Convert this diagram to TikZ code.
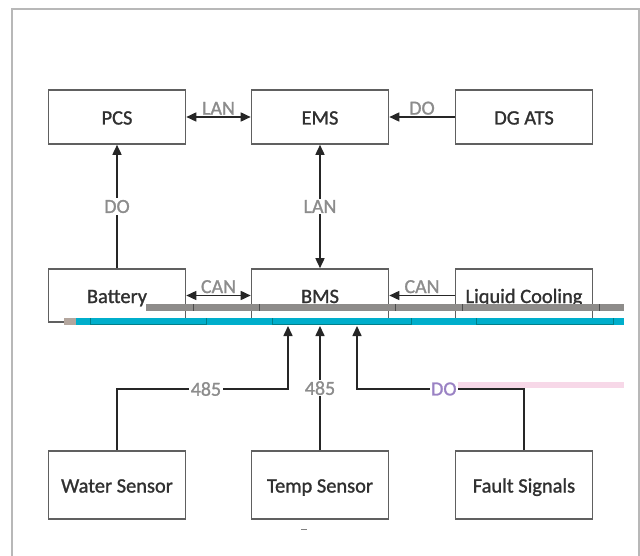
\documentclass[tikz,border=0pt]{standalone}
\usepackage{fontspec}
\setmainfont{Carlito}[FakeBold=1.2]
\usetikzlibrary{arrows.meta}
\definecolor{boxline}{HTML}{606060}
\definecolor{boxtext}{HTML}{303030}
\definecolor{lblgrey}{HTML}{8C8C8C}
\definecolor{lblpurple}{HTML}{9A82C4}
\definecolor{framegrey}{HTML}{B8B8B8}
\definecolor{bargrey}{HTML}{8E8C8A}
\definecolor{barbrown}{HTML}{B3A69E}
\definecolor{barteal}{HTML}{00AECB}
\definecolor{darkteal}{HTML}{00808A}
\definecolor{barpink}{HTML}{F7D8E8}
\tikzset{
  unit/.style={draw=boxline, line width=1.6bp, fill=white, minimum width=137bp, minimum height=54bp, inner sep=0pt, text=boxtext, text height=18bp, text depth=3bp, font=\fontsize{20.5}{23}\selectfont},
  link/.style={draw=black!85, line width=1.6bp},
  tip/.style={-{Triangle[length=10bp,width=9bp]}},
  both/.style={{Triangle[length=10bp,width=9bp]}-{Triangle[length=10bp,width=9bp]}},
  lbl/.style={text=lblgrey, font=\fontsize{20}{23}\selectfont, inner sep=1.5bp},
}
\begin{document}
\begin{tikzpicture}[x=1bp,y=-1bp]
  \useasboundingbox (0,0) rectangle (640,556);
  \draw[framegrey, line width=1.5bp] (12,560) -- (12,9) -- (639,9) -- (639,560);

  \foreach \n/\t/\x in {pcs/PCS/117, ems/EMS/320, ats/DG ATS/524}
    \node[unit] (\n) at (\x,117) {\t};
  \foreach \n/\t/\x in {bat/Battery/117, bms/BMS/320, cool/Liquid Cooling/524}
    \node[unit, minimum height=53bp] (\n) at (\x,295.5) {\t};
  \foreach \n/\t/\x in {water/Water Sensor/117, temp/Temp Sensor/320, fault/Fault Signals/524}
    \node[unit, minimum height=68bp] (\n) at (\x,485) {\t};

  \fill[barpink] (447,382) rectangle (624,388);

  \draw[link, both] (pcs.east) -- node[lbl, above] {LAN} (ems.west);
  \draw[link, tip] (ats.west) -- node[lbl, above] {DO} (ems.east);
  \draw[link, tip] (bat.north) -- node[lbl, fill=white] {DO} (pcs.south);
  \draw[link, both] (ems.south) -- node[lbl, fill=white] {LAN} (bms.north);
  \draw[link, both] (bat.east) -- node[lbl, above] {CAN} (bms.west);
  \draw[link, tip] (cool.west) -- node[lbl, above] {CAN} (bms.east);

  \coordinate (in1) at (288,326);
  \coordinate (in2) at (320,326);
  \coordinate (in3) at (357,326);
  \coordinate (turnL) at (288,389);
  \coordinate (turnR) at (357,389);
  \draw[link, tip] (water.north) |- node[lbl, fill=white, pos=0.76] {485} (turnL) -- (in1);
  \draw[link, tip] (temp.north) -- node[lbl, fill=white] {485} (in2);
  \draw[link, tip] (fault.north) |- node[lbl, fill=white, pos=0.74, text=lblpurple] {DO} (turnR) -- (in3);

  \fill[bargrey] (146,304) rectangle (624,311);
  \foreach \x in {193,259,395,462,599}
    \draw[black!70, line width=1bp] (\x,304) -- (\x,311);
  \fill[barbrown] (64,318) rectangle (76,325);
  \fill[barteal] (76,318) rectangle (624,325);
  \foreach \a/\b in {90/206,272/411,476/613}
    \draw[darkteal, line width=1bp] (\a,318) -- (\a,324) -- (\b,324) -- (\b,318);
  \draw[black!50, line width=1bp] (301,529) -- (307,529);
\end{tikzpicture}
\end{document}
